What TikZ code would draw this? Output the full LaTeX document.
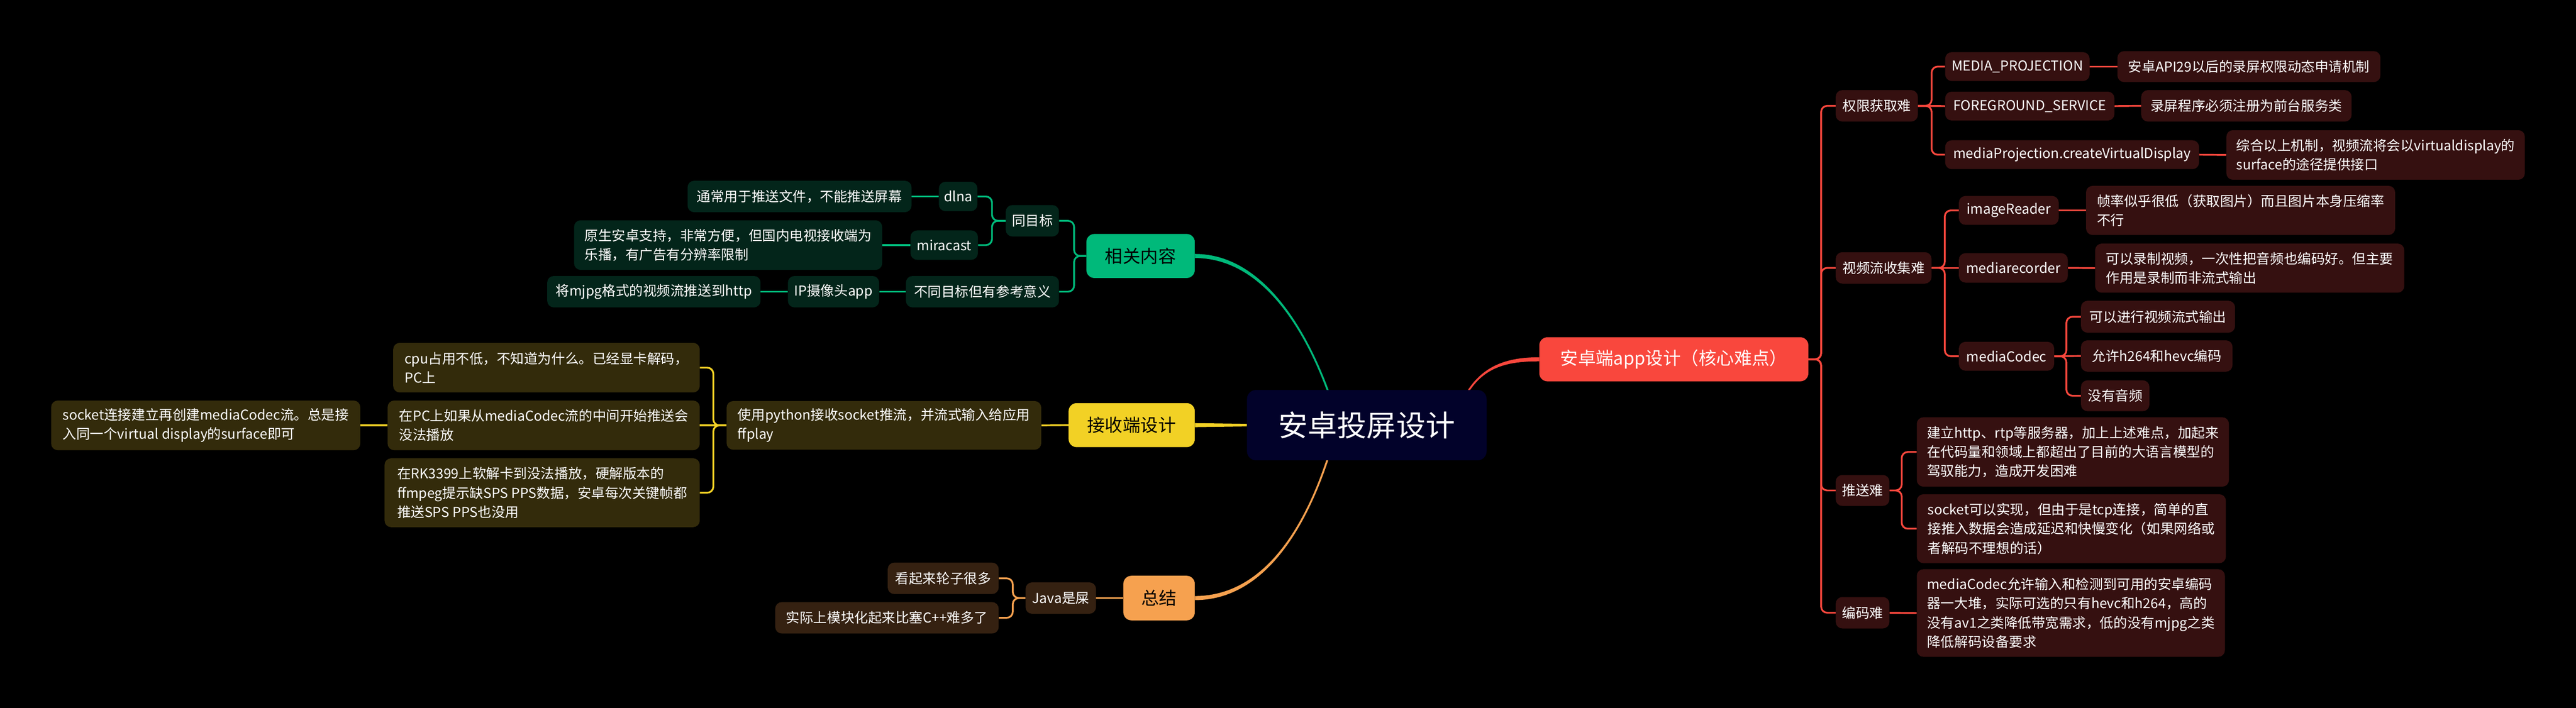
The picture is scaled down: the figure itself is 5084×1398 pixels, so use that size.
\documentclass[tikz,border=0pt]{standalone}
\usepackage{fontspec}
\newfontfamily\cjk{Noto Sans CJK SC}
\usetikzlibrary{backgrounds}
\definecolor{redc}{HTML}{F9473D}
\definecolor{redsub}{HTML}{351010}
\definecolor{greenc}{HTML}{00B97A}
\definecolor{greensub}{HTML}{03251A}
\definecolor{yellowc}{HTML}{F2D125}
\definecolor{yellowsub}{HTML}{332B0B}
\definecolor{orangec}{HTML}{F6A14F}
\definecolor{orangesub}{HTML}{352111}
\definecolor{rootfill}{HTML}{02022A}
\newcommand\mmn[7]{\node[#2, minimum width={#5-#3}, minimum height={#6-#4}] (#1) at ({(#3+#5)/2},{(#4+#6)/2}) {#7};}
\begin{document}
\begin{tikzpicture}[x=1pt,y=-1pt,
  base/.style={rounded corners=13pt, inner sep=0pt, align=left, text=white, font=\cjk\fontsize{27}{38}\selectfont},
  rsub/.style={base, fill=redsub},
  gsub/.style={base, fill=greensub},
  ysub/.style={base, fill=yellowsub},
  osub/.style={base, fill=orangesub},
  lone/.style={rounded corners=16pt, inner sep=0pt, align=center, font=\cjk\fontsize{35}{42}\selectfont},
  rootst/.style={rounded corners=18pt, inner sep=0pt, align=center, fill=rootfill, text=white, font=\cjk\fontsize{58}{70}\selectfont},
  rl/.style={draw=redc, line width=3.5pt, rounded corners=12pt},
  gl/.style={draw=greenc, line width=3.5pt, rounded corners=12pt},
  yl/.style={draw=yellowc, line width=3.5pt, rounded corners=12pt},
  ol/.style={draw=orangec, line width=3.5pt, rounded corners=12pt}
]
\useasboundingbox (0,0) rectangle (5084,1398);

% root
\mmn{rt}{rootst}{2461}{770}{2934}{909}{安卓投屏设计}

% right (red) subtree
\mmn{rd}{lone, fill=redc, text=white}{3038}{666}{3569}{753}{安卓端app设计（核心难点）}
\mmn{qx}{rsub}{3623}{178}{3785}{240}{权限获取难}
\mmn{mp}{rsub}{3839}{103}{4124}{160}{MEDIA\_PROJECTION}
\mmn{mpd}{rsub}{4179}{101}{4698}{162}{安卓API29以后的录屏权限动态申请机制}
\mmn{fs}{rsub}{3839}{181}{4173}{238}{FOREGROUND\_SERVICE}
\mmn{fsd}{rsub}{4226}{178}{4641}{240}{录屏程序必须注册为前台服务类}
\mmn{cv}{rsub}{3839}{277}{4340}{334}{mediaProjection.createVirtualDisplay}
\mmn{cvd}{rsub}{4394}{257}{4983}{355}{综合以上机制，视频流将会以virtualdisplay的\\surface的途径提供接口}
\mmn{sp}{rsub}{3623}{498}{3812}{560}{视频流收集难}
\mmn{ir}{rsub}{3866}{387}{4063}{444}{imageReader}
\mmn{ird}{rsub}{4117}{367}{4727}{464}{帧率似乎很低（获取图片）而且图片本身压缩率\\不行}
\mmn{mr}{rsub}{3866}{500}{4081}{558}{mediarecorder}
\mmn{mrd}{rsub}{4135}{481}{4745}{578}{可以录制视频，一次性把音频也编码好。但主要\\作用是录制而非流式输出}
\mmn{mc}{rsub}{3866}{675}{4054}{732}{mediaCodec}
\mmn{mca}{rsub}{4107}{594}{4411}{657}{可以进行视频流式输出}
\mmn{mcb}{rsub}{4107}{672}{4406}{734}{允许h264和hevc编码}
\mmn{mcc}{rsub}{4107}{751}{4242}{812}{没有音频}
\mmn{ts}{rsub}{3623}{938}{3729}{999}{推送难}
\mmn{tsa}{rsub}{3783}{824}{4399}{961}{建立http、rtp等服务器，加上上述难点，加起来\\在代码量和领域上都超出了目前的大语言模型的\\驾驭能力，造成开发困难}
\mmn{tsb}{rsub}{3783}{976}{4393}{1112}{socket可以实现，但由于是tcp连接，简单的直\\接推入数据会造成延迟和快慢变化（如果网络或\\者解码不理想的话）}
\mmn{bm}{rsub}{3623}{1179}{3729}{1241}{编码难}
\mmn{bmd}{rsub}{3783}{1124}{4391}{1297}{mediaCodec允许输入和检测到可用的安卓编码\\器一大堆，实际可选的只有hevc和h264，高的\\没有av1之类降低带宽需求，低的没有mjpg之类\\降低解码设备要求}

% green subtree
\mmn{xg}{lone, fill=greenc, text=black}{2144}{462}{2358}{549}{相关内容}
\mmn{tg}{gsub}{1985}{405}{2090}{467}{同目标}
\mmn{btg}{gsub}{1788}{545}{2090}{607}{不同目标但有参考意义}
\mmn{dl}{gsub}{1853}{359}{1929}{417}{dlna}
\mmn{mi}{gsub}{1797}{455}{1930}{513}{miracast}
\mmn{dld}{gsub}{1357}{357}{1799}{419}{通常用于推送文件，不能推送屏幕}
\mmn{mid}{gsub}{1133}{435}{1741}{533}{原生安卓支持，非常方便，但国内电视接收端为\\乐播，有广告有分辨率限制}
\mmn{ip}{gsub}{1555}{545}{1735}{607}{IP摄像头app}
\mmn{ipd}{gsub}{1080}{545}{1501}{607}{将mjpg格式的视频流推送到http}

% yellow subtree
\mmn{js}{lone, fill=yellowc, text=black}{2109}{796}{2358}{883}{接收端设计}
\mmn{py}{ysub}{1434}{792}{2055}{888}{使用python接收socket推流，并流式输入给应用\\ffplay}
\mmn{ca}{ysub}{776}{677}{1381}{775}{cpu占用不低，不知道为什么。已经显卡解码，\\PC上}
\mmn{cb}{ysub}{765}{791}{1381}{889}{在PC上如果从mediaCodec流的中间开始推送会\\没法播放}
\mmn{cc}{ysub}{759}{905}{1381}{1041}{在RK3399上软解卡到没法播放，硬解版本的\\ffmpeg提示缺SPS PPS数据，安卓每次关键帧都\\推送SPS PPS也没用}
\mmn{cbd}{ysub}{101}{791}{711}{889}{socket连接建立再创建mediaCodec流。总是接\\入同一个virtual display的surface即可}

% orange subtree
\mmn{zj}{lone, fill=orangec, text=black}{2217}{1137}{2358}{1225}{总结}
\mmn{jv}{osub}{2024}{1150}{2163}{1212}{Java是屎}
\mmn{oa}{osub}{1752}{1111}{1971}{1173}{看起来轮子很多}
\mmn{ob}{osub}{1530}{1189}{1971}{1251}{实际上模块化起来比塞C++难多了}

\begin{scope}[on background layer]
\fill[black] (0,0) rectangle (5084,1398);
% main branches (tapered)
\fill[greenc] ([yshift=4pt]xg.east) .. controls +(162,0) and +(-33,-120) .. ([xshift=-53pt]rt.center)
   -- ([xshift=-57pt]rt.center) .. controls +(-33,-120) and +(162,0) .. ([yshift=-4pt]xg.east) -- cycle;
\fill[redc] ([yshift=4pt]rd.west) .. controls +(-78,0) and +(30,-110) .. ([xshift=170pt]rt.center)
   -- ([xshift=174pt]rt.center) .. controls +(30,-110) and +(-78,0) .. ([yshift=-4pt]rd.west) -- cycle;
\fill[orangec] ([yshift=4pt]zj.east) .. controls +(172,0) and +(-30,120) .. ([xshift=-60pt]rt.center)
   -- ([xshift=-56pt]rt.center) .. controls +(-30,120) and +(172,0) .. ([yshift=-4pt]zj.east) -- cycle;
\fill[yellowc] ([yshift=4pt]js.east) -- ([yshift=2.5pt]rt.west) -- ([yshift=-2.5pt]rt.west) -- ([yshift=-4pt]js.east) -- cycle;
% red connectors
\draw[rl] (rd.east) -- ([xshift=25pt]rd.east) |- (qx.west);
\draw[rl] (rd.east) -- ([xshift=25pt]rd.east) |- (sp.west);
\draw[rl] (rd.east) -- ([xshift=25pt]rd.east) |- (ts.west);
\draw[rl] (rd.east) -- ([xshift=25pt]rd.east) |- (bm.west);
\draw[rl] (qx.east) -- ([xshift=27pt]qx.east) |- (mp.west);
\draw[rl] (qx.east) -- (fs.west);
\draw[rl] (qx.east) -- ([xshift=27pt]qx.east) |- (cv.west);
\draw[rl] (mp.east) -- (mpd.west);
\draw[rl] (fs.east) -- (fsd.west);
\draw[rl] (cv.east) -- (cvd.west);
\draw[rl] (sp.east) -- ([xshift=26pt]sp.east) |- (ir.west);
\draw[rl] (sp.east) -- (mr.west);
\draw[rl] (sp.east) -- ([xshift=26pt]sp.east) |- (mc.west);
\draw[rl] (ir.east) -- (ird.west);
\draw[rl] (mr.east) -- (mrd.west);
\draw[rl] (mc.east) -- ([xshift=24pt]mc.east) |- (mca.west);
\draw[rl] (mc.east) -- (mcb.west);
\draw[rl] (mc.east) -- ([xshift=24pt]mc.east) |- (mcc.west);
\draw[rl] (ts.east) -- ([xshift=24pt]ts.east) |- (tsa.west);
\draw[rl] (ts.east) -- ([xshift=24pt]ts.east) |- (tsb.west);
\draw[rl] (bm.east) -- (bmd.west);
% green connectors
\draw[gl] (xg.west) -- ([xshift=-24pt]xg.west) |- (tg.east);
\draw[gl] (xg.west) -- ([xshift=-24pt]xg.west) |- (btg.east);
\draw[gl] (tg.west) -- ([xshift=-27pt]tg.west) |- (dl.east);
\draw[gl] (tg.west) -- ([xshift=-27pt]tg.west) |- (mi.east);
\draw[gl] (dl.west) -- (dld.east);
\draw[gl] (mi.west) -- (mid.east);
\draw[gl] (btg.west) -- (ip.east);
\draw[gl] (ip.west) -- (ipd.east);
% yellow connectors
\draw[yl] (js.west) -- (py.east);
\draw[yl] (py.west) -- ([xshift=-26pt]py.west) |- (ca.east);
\draw[yl] (py.west) -- (cb.east);
\draw[yl] (py.west) -- ([xshift=-26pt]py.west) |- (cc.east);
\draw[yl] (cb.west) -- (cbd.east);
% orange connectors
\draw[ol] (zj.west) -- (jv.east);
\draw[ol] (jv.west) -- ([xshift=-25pt]jv.west) |- (oa.east);
\draw[ol] (jv.west) -- ([xshift=-25pt]jv.west) |- (ob.east);
\end{scope}
\end{tikzpicture}
\end{document}
